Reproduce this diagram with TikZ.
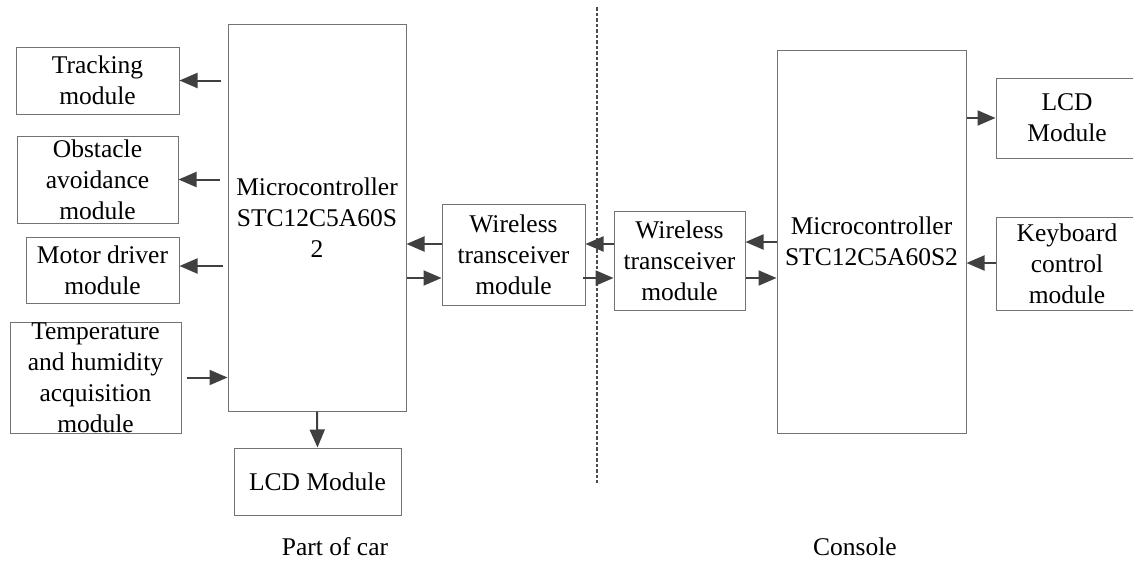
\documentclass[tikz,border=0pt]{standalone}
\usepackage{fontspec}
\setmainfont{Liberation Serif}
\usetikzlibrary{arrows.meta}
\begin{document}
\begin{tikzpicture}[x=1pt,y=-1pt,
  font=\fontsize{25.5}{31}\selectfont,
  box/.style={draw=black!55,line width=1pt,align=center,inner sep=0pt,anchor=center},
  arr/.style={draw=black!75,line width=2pt,-{Triangle[length=18pt,width=15pt]}},
  lbl/.style={inner sep=0pt,anchor=center}]
\clip (0,0) rectangle (1133,563);
\fill[white] (0,0) rectangle (1133,563);
% left part
\node[box,minimum width=163,minimum height=67] (track) at (97.5,80.5) {Tracking\\module};
\node[box,minimum width=161,minimum height=87] (obst) at (97.5,179.5) {Obstacle\\avoidance\\module};
\node[box,minimum width=153,minimum height=66] (motor) at (102.5,270) {Motor driver\\module};
\node[box,minimum width=171,minimum height=111] (temp) at (95.5,377.5) {Temperature\\and humidity\\acquisition\\module};
\node[box,minimum width=178,minimum height=387] (mcu1) at (317,217.5) {Microcontroller\\STC12C5A60S\\2};
\node[box,minimum width=167,minimum height=67] (lcd1) at (317.5,481.5) {LCD Module};
\node[box,minimum width=143,minimum height=101] (w1) at (513.5,254.5) {Wireless\\transceiver\\module};
% right part
\node[box,minimum width=131,minimum height=99] (w2) at (679.5,260.5) {Wireless\\transceiver\\module};
\node[box,minimum width=189,minimum height=383] (mcu2) at (871.5,241.5) {Microcontroller\\STC12C5A60S2};
\node[box,minimum width=142,minimum height=80] (lcd2) at (1067,118) {LCD\\Module};
\node[box,minimum width=142,minimum height=93] (kbd) at (1067,263.5) {Keyboard\\control\\module};
% labels
\node[lbl] (car) at (335,547) {Part of car};
\node[lbl] (con) at (855,547) {Console};
% divider
\coordinate (dtop) at (597,7);
\coordinate (dbot) at (597,483);
\draw[black!70,line width=1.2pt,dash pattern=on 3.5pt off 2pt] (dtop) -- (dbot);
% arrows left
\draw[arr] ([xshift=-7pt]mcu1.west |- track.east) -- (track.east);
\draw[arr] ([xshift=-8pt]mcu1.west |- obst.east) -- (obst.east);
\draw[arr] ([xshift=-5pt,yshift=4pt]mcu1.west |- motor.east) -- ([yshift=4pt]motor.east);
\draw[arr] ([xshift=5pt]temp.east) -- (mcu1.west |- temp.east);
\draw[arr] (mcu1.south) -- (lcd1.north);
\draw[arr] (w1.west |- 0,244) -- (mcu1.east |- 0,244);
\draw[arr] (mcu1.east |- 0,278) -- (w1.west |- 0,278);
\draw[arr] (w2.west |- 0,244) -- (w1.east |- 0,244);
\draw[arr] ([xshift=-3pt]w1.east |- 0,278) -- (w2.west |- 0,278);
% arrows right
\draw[arr] (mcu2.west |- 0,242) -- (w2.east |- 0,242);
\draw[arr] (w2.east |- 0,278) -- (mcu2.west |- 0,278);
\draw[arr] (mcu2.east |- lcd2.west) -- (lcd2.west);
\draw[arr] (kbd.west |- 0,263) -- (mcu2.east |- 0,263);
\end{tikzpicture}
\end{document}
